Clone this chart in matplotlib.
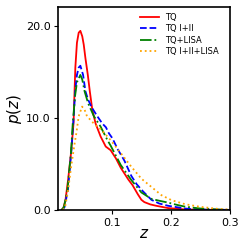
import numpy as np
import matplotlib
matplotlib.use('Agg')
import matplotlib.pyplot as plt
from matplotlib.ticker import FormatStrFormatter

# Redshift distributions
z_tq = [0.015, 0.018, 0.0216, 0.026, 0.031, 0.032, 0.0353, 0.0365, 0.0383, 0.041,
        0.044, 0.0468, 0.050, 0.0525, 0.0554, 0.0594, 0.0628, 0.067, 0.0726, 0.081,
        0.0897, 0.098, 0.107, 0.115, 0.121, 0.128, 0.135, 0.144, 0.150, 0.155,
        0.165, 0.175, 0.195, 0.224, 0.26, 0.3]
p_tq = [0.0, 0.2, 1.06, 3.25, 6.2, 6.9, 9.5, 12.0, 15.5, 18.2,
        19.3, 19.5, 18.9, 18.0, 16.5, 14.7, 12.9, 10.9, 9.4, 8.0,
        6.9, 6.5, 5.6, 4.6, 4.0, 3.3, 2.7, 1.7, 1.1, 0.85,
        0.6, 0.45, 0.2, 0.05, 0.01, 0.0]

z_tq12 = [0.016, 0.02, 0.0257, 0.0314, 0.0353, 0.038, 0.041, 0.044, 0.0468, 0.0514,
          0.0554, 0.060, 0.0657, 0.0754, 0.084, 0.090, 0.095, 0.101, 0.110, 0.121,
          0.133, 0.142, 0.153, 0.167, 0.18, 0.195, 0.224, 0.25, 0.3]
p_tq12 = [0.0, 0.3, 2.15, 6.3, 10.0, 12.9, 14.7, 15.5, 15.7, 14.7,
          12.9, 12.0, 11.2, 10.2, 9.4, 9.0, 8.35, 7.8, 6.6, 5.4,
          3.7, 2.8, 2.0, 1.1, 0.7, 0.45, 0.15, 0.04, 0.0]

z_lisa = [0.015, 0.019, 0.025, 0.031, 0.034, 0.038, 0.041, 0.0468, 0.050, 0.054,
          0.060, 0.0697, 0.081, 0.0926, 0.098, 0.115, 0.133, 0.15, 0.167, 0.18,
          0.195, 0.21, 0.224, 0.25, 0.28, 0.3]
p_lisa = [0.0, 0.3, 2.2, 6.3, 9.5, 12.5, 13.9, 14.7, 14.2, 12.9,
          11.6, 10.2, 9.07, 7.6, 7.0, 4.9, 3.25, 1.9, 1.2, 1.0,
          0.8, 0.55, 0.35, 0.15, 0.04, 0.0]

z_all = [0.017, 0.021, 0.0257, 0.0314, 0.0365, 0.040, 0.044, 0.0497, 0.054, 0.058,
         0.0697, 0.0754, 0.081, 0.098, 0.115, 0.133, 0.15, 0.167, 0.184, 0.201,
         0.224, 0.25, 0.28, 0.3]
p_all = [0.0, 0.3, 2.0, 4.8, 7.0, 8.35, 10.2, 11.25, 10.9, 10.2,
         9.4, 9.07, 8.8, 7.6, 6.2, 4.7, 3.4, 2.5, 1.6, 1.06,
         0.62, 0.33, 0.11, 0.03]

labels = ['TQ', 'TQ I+II', 'TQ+LISA', 'TQ I+II+LISA']
colors = ['red', 'blue', 'green', 'orange']
styles = ['-', '--', '-.', ':']

fig = plt.figure(figsize=(2.49, 2.49), dpi=100)
ax = fig.add_axes([0.233, 0.157, 0.691, 0.815])

series = [(z_tq, p_tq), (z_tq12, p_tq12), (z_lisa, p_lisa), (z_all, p_all)]
for (zz, pp), lab, c, ls in zip(series, labels, colors, styles):
    ax.plot(zz, pp, ls, color=c, lw=1.3, label=lab)

ax.set_xlim(0.009, 0.3)
ax.set_ylim(0, 22.1)
ax.set_xticks([0.1, 0.2, 0.3])
ax.set_yticks([0, 10, 20])
ax.yaxis.set_major_formatter(FormatStrFormatter('%.1f'))
ax.tick_params(labelsize=8, length=3, pad=2.5)
ax.set_xlabel('$z$', fontsize=11, labelpad=-1)
ax.set_ylabel('$p(z)$', fontsize=11, labelpad=1)
for s in ax.spines.values():
    s.set_linewidth(1.2)

ax.legend(loc='upper right', frameon=False, fontsize=6, handlelength=2.2,
          labelspacing=0.3, borderaxespad=0.3, bbox_to_anchor=(0.97, 1.0))

fig.savefig('out.png', dpi=100)
